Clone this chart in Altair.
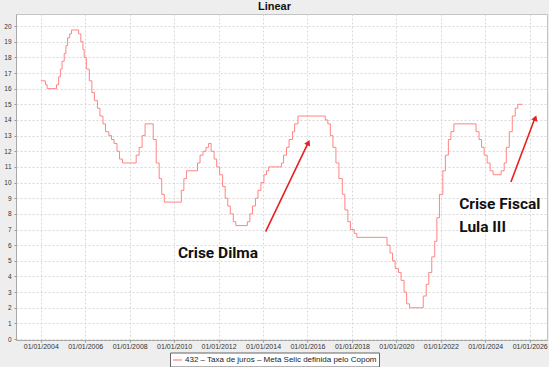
import altair as alt
import pandas as pd

# Selic target (series 432) change dates and values (% a.a.)
change_dates = [
    "2004-01-01", "2004-03-18", "2004-04-15", "2004-09-16", "2004-10-21", "2004-11-18", "2004-12-16",
    "2005-01-20", "2005-02-17", "2005-03-17", "2005-04-20", "2005-05-19", "2005-09-15", "2005-10-20",
    "2005-11-24", "2005-12-15", "2006-01-19", "2006-03-09", "2006-04-20", "2006-06-01", "2006-07-20",
    "2006-08-31", "2006-10-19", "2006-11-30", "2007-01-25", "2007-03-08", "2007-04-19", "2007-06-07",
    "2007-07-19", "2007-09-06", "2008-04-17", "2008-06-05", "2008-07-24", "2008-09-11", "2009-01-22",
    "2009-03-12", "2009-04-30", "2009-06-11", "2009-07-23", "2010-04-29", "2010-06-10", "2010-07-22",
    "2011-01-20", "2011-03-03", "2011-04-21", "2011-06-09", "2011-07-21", "2011-09-01", "2011-10-20",
    "2011-12-01", "2012-01-19", "2012-03-08", "2012-04-19", "2012-05-31", "2012-07-12", "2012-08-30",
    "2012-10-11", "2013-04-18", "2013-05-30", "2013-07-11", "2013-08-29", "2013-10-10", "2013-11-28",
    "2014-01-16", "2014-02-27", "2014-04-03", "2014-10-30", "2014-12-04", "2015-01-22", "2015-03-05",
    "2015-04-30", "2015-06-04", "2015-07-30", "2016-10-20", "2016-12-01", "2017-01-12", "2017-02-23",
    "2017-04-13", "2017-06-01", "2017-07-27", "2017-09-07", "2017-10-26", "2017-12-07", "2018-02-08",
    "2018-03-22", "2019-08-01", "2019-09-19", "2019-10-31", "2019-12-12", "2020-02-06", "2020-03-19",
    "2020-05-07", "2020-06-18", "2020-08-06", "2021-03-18", "2021-05-06", "2021-06-17", "2021-08-05",
    "2021-09-23", "2021-10-28", "2021-12-09", "2022-02-03", "2022-03-17", "2022-05-05", "2022-06-16",
    "2022-08-04", "2023-08-03", "2023-09-21", "2023-11-02", "2023-12-14", "2024-02-01", "2024-03-21",
    "2024-05-09", "2024-09-19", "2024-11-07", "2024-12-12", "2025-01-30", "2025-03-20", "2025-05-08",
    "2025-06-19", "2025-09-05",
]
selic_values = [
    16.5, 16.25, 16.0, 16.25, 16.75, 17.25, 17.75,
    18.25, 18.75, 19.25, 19.5, 19.75, 19.5, 19.0,
    18.5, 18.0, 17.25, 16.5, 15.75, 15.25, 14.75,
    14.25, 13.75, 13.25, 13.0, 12.75, 12.5, 12.0,
    11.5, 11.25, 11.75, 12.25, 13.0, 13.75, 12.75,
    11.25, 10.25, 9.25, 8.75, 9.5, 10.25, 10.75,
    11.25, 11.75, 12.0, 12.25, 12.5, 12.0, 11.5,
    11.0, 10.5, 9.75, 9.0, 8.5, 8.0, 7.5,
    7.25, 7.5, 8.0, 8.5, 9.0, 9.5, 10.0,
    10.5, 10.75, 11.0, 11.25, 11.75, 12.25, 12.75,
    13.25, 13.75, 14.25, 14.0, 13.75, 13.0, 12.25,
    11.25, 10.25, 9.25, 8.25, 7.5, 7.0, 6.75,
    6.5, 6.0, 5.5, 5.0, 4.5, 4.25, 3.75,
    3.0, 2.25, 2.0, 2.75, 3.5, 4.25, 5.25,
    6.25, 7.75, 9.25, 10.75, 11.75, 12.75, 13.25,
    13.75, 13.25, 12.75, 12.25, 11.75, 11.25, 10.75,
    10.5, 10.75, 11.25, 12.25, 13.25, 14.25, 14.75,
    15.0, 15.0,
]
series_name = "432 – Taxa de juros – Meta Selic definida pelo Copom"
tick_years = list(range(2004, 2027, 2))
y_ticks = list(range(0, 21))

# annotations (data coordinates)
label_dates = ["2010-03-05", "2022-10-30", "2022-10-30"]
label_rates = [5.16, 8.29, 6.86]
label_texts = ["Crise Dilma", "Crise Fiscal", "Lula III"]

arrow_start_dates = ["2014-02-13", "2025-02-26"]
arrow_start_rates = [6.86, 10.03]
arrow_end_dates = ["2016-01-20", "2026-04-05"]
arrow_end_rates = [12.6, 14.2]
head_dates = ["2016-01-16", "2026-04-03"]
head_rates = [12.55, 14.12]
head_angles = [25.5, 20.7]

df = pd.DataFrame({"date": change_dates, "rate": selic_values, "series": series_name})
labels_df = pd.DataFrame({"date": label_dates, "rate": label_rates, "label": label_texts})
arrows_df = pd.DataFrame({"date": arrow_start_dates, "rate": arrow_start_rates,
                          "date2": arrow_end_dates, "rate2": arrow_end_rates})
heads_df = pd.DataFrame({"date": head_dates, "rate": head_rates, "angle": head_angles})

x_scale = alt.Scale(type="utc", domain=[alt.DateTime(year=2002, month=11, date=20, utc=True),
                                        alt.DateTime(year=2026, month=10, date=12, utc=True)])
y_scale = alt.Scale(domain=[-0.06, 20.77], nice=False, zero=False)

x_axis = alt.Axis(values=[alt.DateTime(year=y, month=1, date=1, utc=True) for y in tick_years],
                  labelExpr="utcFormat(datum.value, '%d/%m/%Y')", title=None, labelFontSize=7,
                  labelFont="Liberation Sans", labelColor="#333", tickSize=2, labelPadding=0,
                  tickColor="#999", domainColor="#a8a8a8", labelFlush=False, labelOverlap=False,
                  gridColor="#d8d8d8", gridDash=[2, 2])
y_axis = alt.Axis(values=y_ticks, title=None, labelFontSize=6.5, labelFont="Liberation Sans",
                  labelColor="#333", tickSize=2, labelPadding=3, tickColor="#999",
                  labelOverlap=False, labelFlush=False,
                  domainColor="#a8a8a8", gridColor="#d8d8d8", gridDash=[2, 2])

x_enc = alt.X("date:T", scale=x_scale, axis=x_axis)
y_enc = alt.Y("rate:Q", scale=y_scale, axis=y_axis)

line = alt.Chart(df).mark_line(interpolate="step-after", strokeWidth=1, clip=True).encode(
    x=x_enc,
    y=y_enc,
    color=alt.Color("series:N", scale=alt.Scale(range=["#ff8484"]),
                    legend=alt.Legend(title=None, orient="none", legendX=154, legendY=338.5,
                                      symbolType="stroke", symbolSize=81, symbolStrokeWidth=1.2,
                                      labelFontSize=8, labelFont="Liberation Sans", labelColor="#222",
                                      labelLimit=400, padding=2, strokeColor="#666",
                                      fillColor="#ffffff", labelOffset=2, rowPadding=0)),
)

arrows = alt.Chart(arrows_df).mark_rule(color="#e82020", strokeWidth=1.6).encode(
    x=x_enc, y=y_enc, x2="date2:T", y2="rate2:Q")

heads = alt.Chart(heads_df).mark_point(shape="triangle-up", filled=True, size=42,
                                      color="#e82020", opacity=1).encode(
    x=x_enc, y=y_enc, angle=alt.Angle("angle:Q", scale=None))

labels = alt.Chart(labels_df).mark_text(align="left", baseline="alphabetic", fontSize=15.5,
                                        fontWeight="bold", font="Roboto", color="#111").encode(
    x=x_enc, y=y_enc, text="label:N")

chart = alt.layer(line, arrows, heads, labels).properties(
    width=531, height=326,
    title=alt.Title("Linear", fontSize=11, fontWeight="bold", font="Liberation Sans",
                    anchor="middle", dx=-7, offset=2, color="#111"),
    autosize=alt.AutoSizeParams(type="none"),
    padding={"left": 16, "top": 14, "right": 2, "bottom": 27},
    background="#eeeeee",
).configure_view(stroke="#c4c4c4", fill="#ffffff", strokeWidth=1)

chart.save("out.html", embed_options={"renderer": "svg", "actions": False})
